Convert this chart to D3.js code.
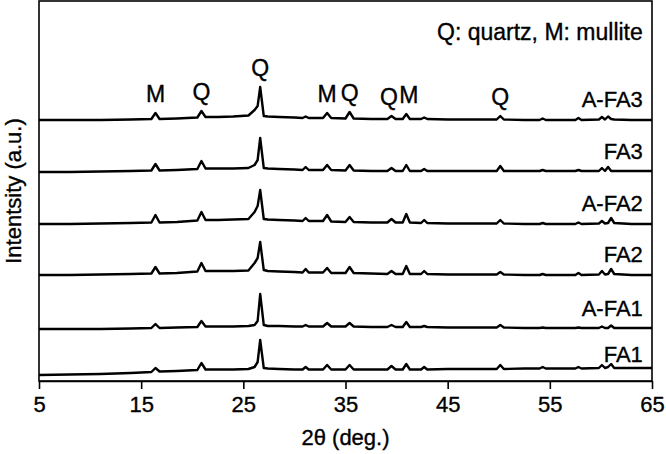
<!DOCTYPE html>
<html>
<head>
<meta charset="utf-8">
<script src="https://cdn.jsdelivr.net/npm/d3@7/dist/d3.min.js"></script>
<style>
  body { margin: 0; background: #fff; }
  svg { display: block; font-family: "Liberation Sans", Arial, sans-serif; }
  text { fill: #000; stroke: #000; stroke-width: 0.35px; }
</style>
</head>
<body>
<div id="chart"></div>
<script>
// 2theta sampling points (deg.) shared by all patterns
var twoTheta = [5, 8, 11, 14, 16.0, 16.4, 16.8, 18.5, 20.5, 20.9, 21.3, 22.5, 24, 25.5,
  26.1, 26.4, 26.65, 27.0, 27.4, 28.5, 30, 30.8, 31.1, 31.4, 32.8, 33.2, 33.6, 35.0, 35.4, 35.8,
  37.5, 39.1, 39.5, 39.9, 40.6, 40.95, 41.3, 42.4, 42.7, 43.0, 45, 47.5, 49.8, 50.15, 50.5,
  52.5, 54.0, 54.3, 54.6, 56.5, 57.5, 57.8, 58.1, 59.8, 60.1, 60.4, 60.7, 61.0, 61.3, 63, 65];

var samples = ["A-FA3", "FA3", "A-FA2", "FA2", "A-FA1", "FA1"];

// vertical stacking offset of each pattern (a.u.)
var offsets = [261, 209, 157, 106, 52, 6];

// intensities (a.u.), one value per 2theta point
var iAFA3 = [0, 0, 0, 0.5, 1, 7, 1, 1.5, 2.5, 9, 3, 3, 3.5, 4.5, 10, 14, 33, 4, 3.5, 3, 2.5, 2, 3.5, 2,
  2, 7, 2, 1.5, 8, 1.5, 1, 1, 4, 1, 1, 6, 1, 1, 2.5, 1, 0.5, 0.5, 0.5, 4, 0.5,
  0, 0, 1.5, 0, 0, 0, 2, 0, 0.5, 3, 0.5, 3.5, 1, 0.5, 0, 0];
var iFA3 = [0, 0, 0.5, 1, 1.5, 8, 1.5, 2, 3, 11, 3.5, 3.5, 3.5, 4, 7, 12, 34, 4, 3.5, 3, 2.5, 2, 5, 2,
  2, 7, 2, 1.5, 7, 1.5, 1, 1, 4, 1, 1, 7, 1, 1, 3, 1, 1, 1, 1, 6, 1,
  1, 1, 2, 1, 1, 1, 2, 1, 1, 4, 1, 5, 1, 1, 1, 1];
var iAFA2 = [0, 0, 0.5, 1, 1.5, 9, 1.5, 2, 3.5, 12, 4, 4, 4.5, 5, 12, 18, 34, 5, 4.5, 4, 3.5, 3, 6, 3,
  3, 9, 2.5, 2, 7, 2, 1.5, 1.5, 5, 1.5, 1.5, 10, 1.5, 1, 4, 1, 0.5, 0.5, 0.5, 4, 0.5,
  0, 0, 1, 0, 0, 0, 1.5, 0, 0.5, 3, 0.5, 1, 6, 1, 0, 0];
var iFA2 = [0, 0, 0.5, 1, 1.5, 8, 1.5, 2, 3.5, 12, 4, 4, 4, 4.5, 12, 17, 33, 5, 4, 3.5, 3, 2.5, 6, 2.5,
  2.5, 7, 2, 2, 8, 2, 1.5, 1, 4, 1, 1, 9, 1, 1, 4, 1, 0.5, 0.5, 0.5, 3, 0.5,
  0, 0, 1, 0, 0, 0, 2, 0, 0.5, 4, 0.5, 1, 6, 1, 0, 0];
var iAFA1 = [0, 0, 0, 0.5, 1, 5, 1, 1.5, 2, 8, 2.5, 2.5, 2.5, 3, 4, 8, 35, 4, 3, 3, 2.5, 2.5, 4, 2.5,
  2.5, 6, 2.5, 2.5, 6, 2.5, 2, 2, 4, 2, 2, 7, 2, 2, 3, 2, 1.5, 1.5, 1.5, 4, 1.5,
  1, 1, 1.5, 1, 1, 1, 1.5, 1, 1, 2.5, 1, 1, 3.5, 1, 1, 1];
var iFA1 = [0, 0.5, 1, 2, 3, 7, 3.5, 4, 5, 12, 5.5, 5.5, 5.5, 6, 8, 13, 35, 7, 6.5, 6, 5.5, 5.5, 8, 5.5,
  5.5, 10, 5.5, 5.5, 10, 5.5, 5.5, 5.5, 9, 5.5, 5.5, 11, 5.5, 5.5, 8, 5.5, 6, 6, 6, 10, 6,
  6.5, 6.5, 8, 6.5, 6.5, 6.5, 8, 6.5, 7, 10, 7, 8, 11, 7, 7, 7];

var intensities = [iAFA3, iFA3, iAFA2, iFA2, iAFA1, iFA1];

// phase marks drawn above the top pattern
var phaseLetters = ["M", "Q", "Q", "M", "Q", "Q", "M", "Q"];
var phaseAngles = [16.4, 20.9, 26.65, 33.2, 35.4, 39.5, 40.95, 50.15];

var xTicks = [5, 15, 25, 35, 45, 55, 65];

var width = 666, height = 454,
    margin = { top: 1, right: 14, bottom: 73, left: 39 },
    fontSize = 22;

var svg = d3.select("#chart").append("svg")
    .attr("width", width)
    .attr("height", height);

var x = d3.scaleLinear()
    .domain([5, 65])
    .range([margin.left, width - margin.right]);

var y = d3.scaleLinear()
    .domain([0, 380])
    .range([height - margin.bottom, margin.top]);

var line = d3.line()
    .x(function (d) { return x(d[0]); })
    .y(function (d) { return y(d[1]); });

// patterns
samples.forEach(function (name, k) {
  var pts = twoTheta.map(function (t, i) { return [t, intensities[k][i] + offsets[k]]; });
  svg.append("path")
    .attr("d", line(pts))
    .attr("fill", "none")
    .attr("stroke", "#000")
    .attr("stroke-width", 2.4)
    .attr("stroke-linejoin", "round");

  svg.append("text")
    .attr("x", x(64.1))
    .attr("y", y(offsets[k]) - 13)
    .attr("text-anchor", "end")
    .attr("font-size", fontSize)
    .text(name);
});

// phase letters above the peaks of the top pattern; letters that would
// collide are pushed apart so that they read as one group ("QM")
var letterX = phaseAngles.map(function (t) { return x(t); });
for (var i = 1; i < letterX.length; i++) {
  var gap = letterX[i] - letterX[i - 1];
  if (gap < 20) {
    letterX[i - 1] -= (20 - gap) / 2;
    letterX[i] += (20 - gap) / 2;
  }
}
phaseAngles.forEach(function (t, i) {
  var j = twoTheta.indexOf(t);
  svg.append("text")
    .attr("x", letterX[i])
    .attr("y", y(iAFA3[j] + offsets[0]) - 11)
    .attr("text-anchor", "middle")
    .attr("font-size", 23)
    .text(phaseLetters[i]);
});

svg.append("text")
  .attr("x", x(64.1))
  .attr("y", 40)
  .attr("text-anchor", "end")
  .attr("font-size", 23)
  .text("Q: quartz, M: mullite");

// frame
svg.append("rect")
  .attr("x", margin.left)
  .attr("y", margin.top)
  .attr("width", width - margin.left - margin.right)
  .attr("height", height - margin.top - margin.bottom)
  .attr("fill", "none")
  .attr("stroke", "#000")
  .attr("stroke-width", 1.6);

var xAxis = svg.append("g")
  .attr("transform", "translate(0," + (height - margin.bottom) + ")")
  .call(d3.axisBottom(x).tickValues(xTicks).tickSize(8).tickPadding(7).tickSizeOuter(0));
xAxis.select(".domain").attr("stroke-width", 1.6);
xAxis.selectAll(".tick line").attr("stroke-width", 1.6);
xAxis.selectAll("text")
  .attr("font-size", fontSize)
  .attr("font-family", "Liberation Sans, Arial, sans-serif");

svg.append("text")
  .attr("x", (x(5) + x(65)) / 2)
  .attr("y", 445)
  .attr("text-anchor", "middle")
  .attr("font-size", fontSize)
  .text("2\u03b8 (deg.)");

svg.append("text")
  .attr("transform", "translate(21," + (height - margin.bottom + margin.top) / 2 + ") rotate(-90)")
  .attr("text-anchor", "middle")
  .attr("font-size", fontSize)
  .text("Intentsity (a.u.)");
</script>
</body>
</html>
